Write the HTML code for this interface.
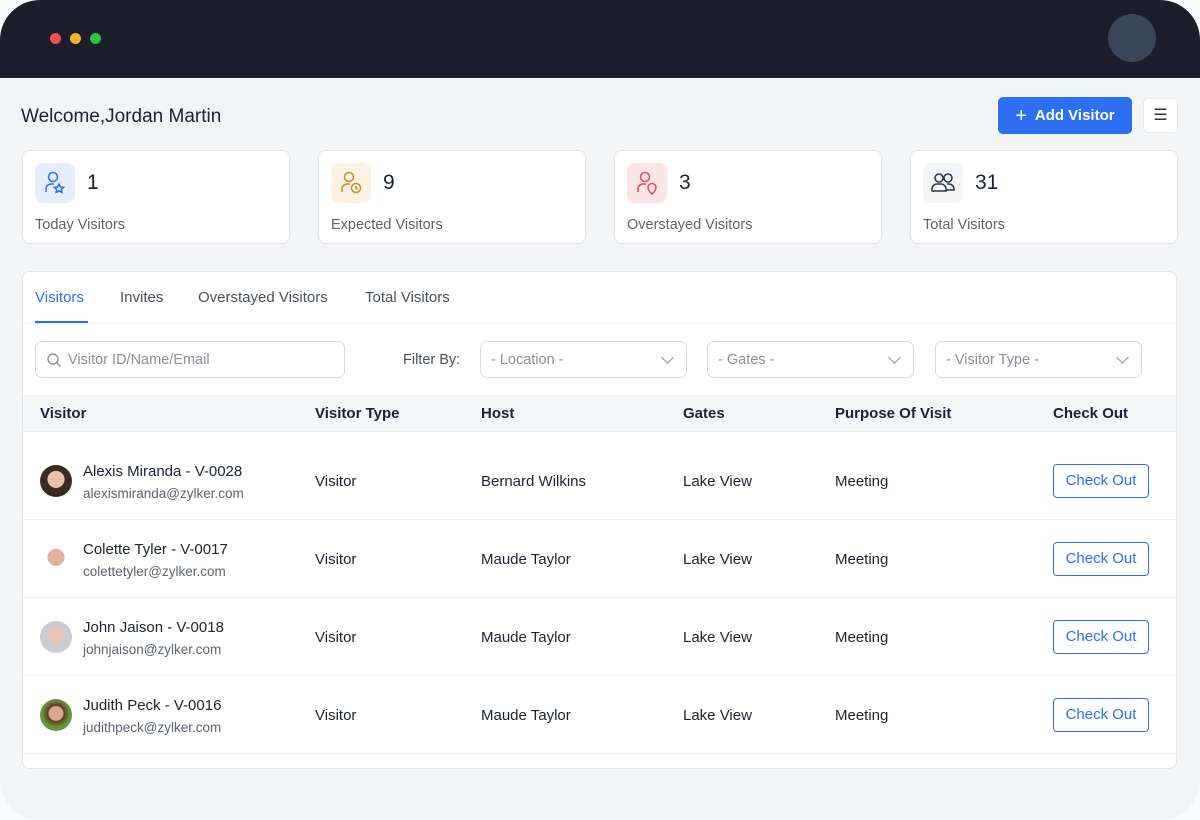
<!DOCTYPE html>
<html><head><meta charset="utf-8"><style>
*{box-sizing:border-box;margin:0;padding:0}
body{width:1200px;height:820px;background:#fafbfc;font-family:"Liberation Sans",sans-serif;position:relative;overflow:hidden;color:#1c2233}
.frame{position:absolute;left:0;top:0;width:1200px;height:820px;border-radius:40px;background:#f3f4f6;overflow:hidden}
.top{position:absolute;left:0;top:0;width:1200px;height:78px;background:#1a1f2b}
.dot{position:absolute;top:33px;width:11px;height:11px;border-radius:50%}
.av{position:absolute;left:1108px;top:14px;width:48px;height:48px;border-radius:50%;background:#3a4558}
.abs{position:absolute}
.card{position:absolute;top:150px;width:268px;height:94px;background:#fff;border:1px solid #e3e5ea;border-radius:8px}
.ib{position:absolute;left:12px;top:12px;width:40px;height:40px;border-radius:8px}
.num{position:absolute;left:64px;top:20px;font-size:21px;color:#1c2233}
.lab{position:absolute;left:12px;top:66px;font-size:14.5px;color:#5d6370}
.panel{position:absolute;left:22px;top:271px;width:1155px;height:498px;background:#fff;border:1px solid #e3e5ea;border-radius:8px;overflow:hidden}
.tab{position:absolute;top:17px;font-size:15px;color:#4a505c}
.inp{position:absolute;top:69px;height:37px;border:1px solid #d8dbe0;border-radius:7px;font-size:14.5px;color:#8a8f99;padding:10px 0 0 10px}
.sel:after{content:"";position:absolute;right:14px;top:11px;width:8px;height:8px;border-right:1.5px solid #8a8f99;border-bottom:1.5px solid #8a8f99;transform:rotate(45deg)}
.th{position:absolute;left:0;top:123px;width:1155px;height:37px;background:#f5f6f8;border-bottom:1px solid #eceef1}
.th span{position:absolute;top:10px;font-size:15px;font-weight:bold;color:#1c2233}
.row{position:absolute;left:0;width:1155px;height:78px;border-bottom:1px solid #eceef1}
.row span{position:absolute;font-size:15px;color:#1c2233;top:31px}
.row .nm{left:60px;top:21px}
.row .em{left:60px;top:44px;font-size:13.5px;color:#5d6370}
.row .pic{left:17px;top:23px;width:32px;height:32px;border-radius:50%}
.btn{position:absolute;left:1030px;top:22px;width:96px;height:34px;border:1px solid #2c6ff0;border-radius:4px;color:#2c6ff0;font-size:15px;text-align:center;line-height:32px}
</style></head><body>
<div class="frame">
<div class="top"></div>
<div class="dot" style="left:50px;background:#f0544c"></div>
<div class="dot" style="left:70px;background:#f4b32a"></div>
<div class="dot" style="left:90px;background:#2fc23a"></div>
<div class="av"></div>
<div class="abs" style="left:21px;top:106px;font-size:19px;color:#1c2233">Welcome,Jordan Martin</div>
<div class="abs" style="left:998px;top:97px;width:134px;height:37px;background:#2c6ff0;border-radius:5px;color:#fff;font-size:15px;line-height:37px;text-align:center;font-weight:bold"><span style="font-weight:normal;font-size:20px;vertical-align:-2px">+</span>&nbsp; Add Visitor</div>
<div class="abs" style="left:1143px;top:98px;width:35px;height:35px;background:#fff;border-radius:5px;border:1px solid #e6e8ec;text-align:center;line-height:33px;font-size:16px;color:#333">☰</div>

<div class="card" style="left:22px"><div class="ib" style="background:#e5eefd"><svg width="40" height="40"><g fill="none" stroke="#2c6ff0" stroke-width="1.5"><circle cx="18" cy="14" r="4.5"/><path d="M11 29v-3a5 5 0 0 1 5-5h3"/><path d="M24 21l1.5 3 3 .4-2.2 2 .6 3-2.9-1.5-2.9 1.5.6-3-2.2-2 3-.4z"/></g></svg></div><div class="num">1</div><div class="lab">Today Visitors</div></div>
<div class="card" style="left:318px"><div class="ib" style="background:#fdf1e2"><svg width="40" height="40"><g fill="none" stroke="#c98a2a" stroke-width="1.5"><circle cx="18" cy="14" r="4.5"/><path d="M11 29v-3a5 5 0 0 1 5-5h3"/><circle cx="25" cy="25" r="4.5"/><path d="M25 23v2.5h2"/></g></svg></div><div class="num">9</div><div class="lab">Expected Visitors</div></div>
<div class="card" style="left:614px"><div class="ib" style="background:#fde4e6"><svg width="40" height="40"><g fill="none" stroke="#e2475a" stroke-width="1.5"><circle cx="18" cy="14" r="4.5"/><path d="M11 29v-3a5 5 0 0 1 5-5h3"/><path d="M25 31s-4-3.5-4-6.5a4 4 0 0 1 8 0c0 3-4 6.5-4 6.5z"/></g></svg></div><div class="num">3</div><div class="lab">Overstayed Visitors</div></div>
<div class="card" style="left:910px"><div class="ib" style="background:#f4f5f7"><svg width="40" height="40"><g fill="none" stroke="#2a3448" stroke-width="1.5"><circle cx="16" cy="15" r="4"/><circle cx="25" cy="15" r="4"/><path d="M9 28v-2a5 5 0 0 1 5-5h4a5 5 0 0 1 5 5v2zM24 21h2a5 5 0 0 1 5 5v1h-8"/></g></svg></div><div class="num">31</div><div class="lab">Total Visitors</div></div>

<div class="panel">
<div class="tab" style="left:12px;color:#2c6ff0">Visitors</div>
<div class="abs" style="left:12px;top:49px;width:53px;height:2px;background:#2c6ff0"></div>
<div class="tab" style="left:97px">Invites</div>
<div class="tab" style="left:175px">Overstayed Visitors</div>
<div class="tab" style="left:342px">Total Visitors</div>
<div class="abs" style="left:0;top:51px;width:1155px;height:1px;background:#eceef1"></div>
<div class="inp" style="left:12px;width:310px;padding-left:32px"><svg class="abs" style="left:10px;top:10px" width="16" height="16"><circle cx="7" cy="7" r="5" fill="none" stroke="#8a8f99" stroke-width="1.4"/><path d="M10.5 10.5l4 4" stroke="#8a8f99" stroke-width="1.4"/></svg>Visitor ID/Name/Email</div>
<div class="abs" style="left:380px;top:80px;font-size:14.5px;color:#4a505c">Filter By:</div>
<div class="inp sel" style="left:457px;width:207px">- Location -</div>
<div class="inp sel" style="left:684px;width:207px">- Gates -</div>
<div class="inp sel" style="left:912px;width:207px">- Visitor Type -</div>
<div class="th"><span style="left:17px">Visitor</span><span style="left:292px">Visitor Type</span><span style="left:458px">Host</span><span style="left:660px">Gates</span><span style="left:812px">Purpose Of Visit</span><span style="left:1030px">Check Out</span></div>
<div class="row" style="top:170px"><span class="pic" style="background:radial-gradient(circle at 50% 45%,#e8c2ad 35%,#3a2a25 37%)"></span><span class="nm">Alexis Miranda - V-0028</span><span class="em">alexismiranda@zylker.com</span><span style="left:292px">Visitor</span><span style="left:458px">Bernard Wilkins</span><span style="left:660px">Lake View</span><span style="left:812px">Meeting</span><div class="btn">Check Out</div></div>
<div class="row" style="top:248px"><span class="pic" style="background:radial-gradient(circle at 50% 45%,#e2b49a 35%,#fff 37%)"></span><span class="nm">Colette Tyler - V-0017</span><span class="em">colettetyler@zylker.com</span><span style="left:292px">Visitor</span><span style="left:458px">Maude Taylor</span><span style="left:660px">Lake View</span><span style="left:812px">Meeting</span><div class="btn">Check Out</div></div>
<div class="row" style="top:326px"><span class="pic" style="background:radial-gradient(circle at 50% 45%,#e6c6b4 35%,#c9ccd2 37%)"></span><span class="nm">John Jaison - V-0018</span><span class="em">johnjaison@zylker.com</span><span style="left:292px">Visitor</span><span style="left:458px">Maude Taylor</span><span style="left:660px">Lake View</span><span style="left:812px">Meeting</span><div class="btn">Check Out</div></div>
<div class="row" style="top:404px"><span class="pic" style="background:radial-gradient(circle at 50% 45%,#d9a88c 30%,#5a3a28 33%,#6b9a3a 60%)"></span><span class="nm">Judith Peck - V-0016</span><span class="em">judithpeck@zylker.com</span><span style="left:292px">Visitor</span><span style="left:458px">Maude Taylor</span><span style="left:660px">Lake View</span><span style="left:812px">Meeting</span><div class="btn">Check Out</div></div>
</div>
</div>
</body></html>
